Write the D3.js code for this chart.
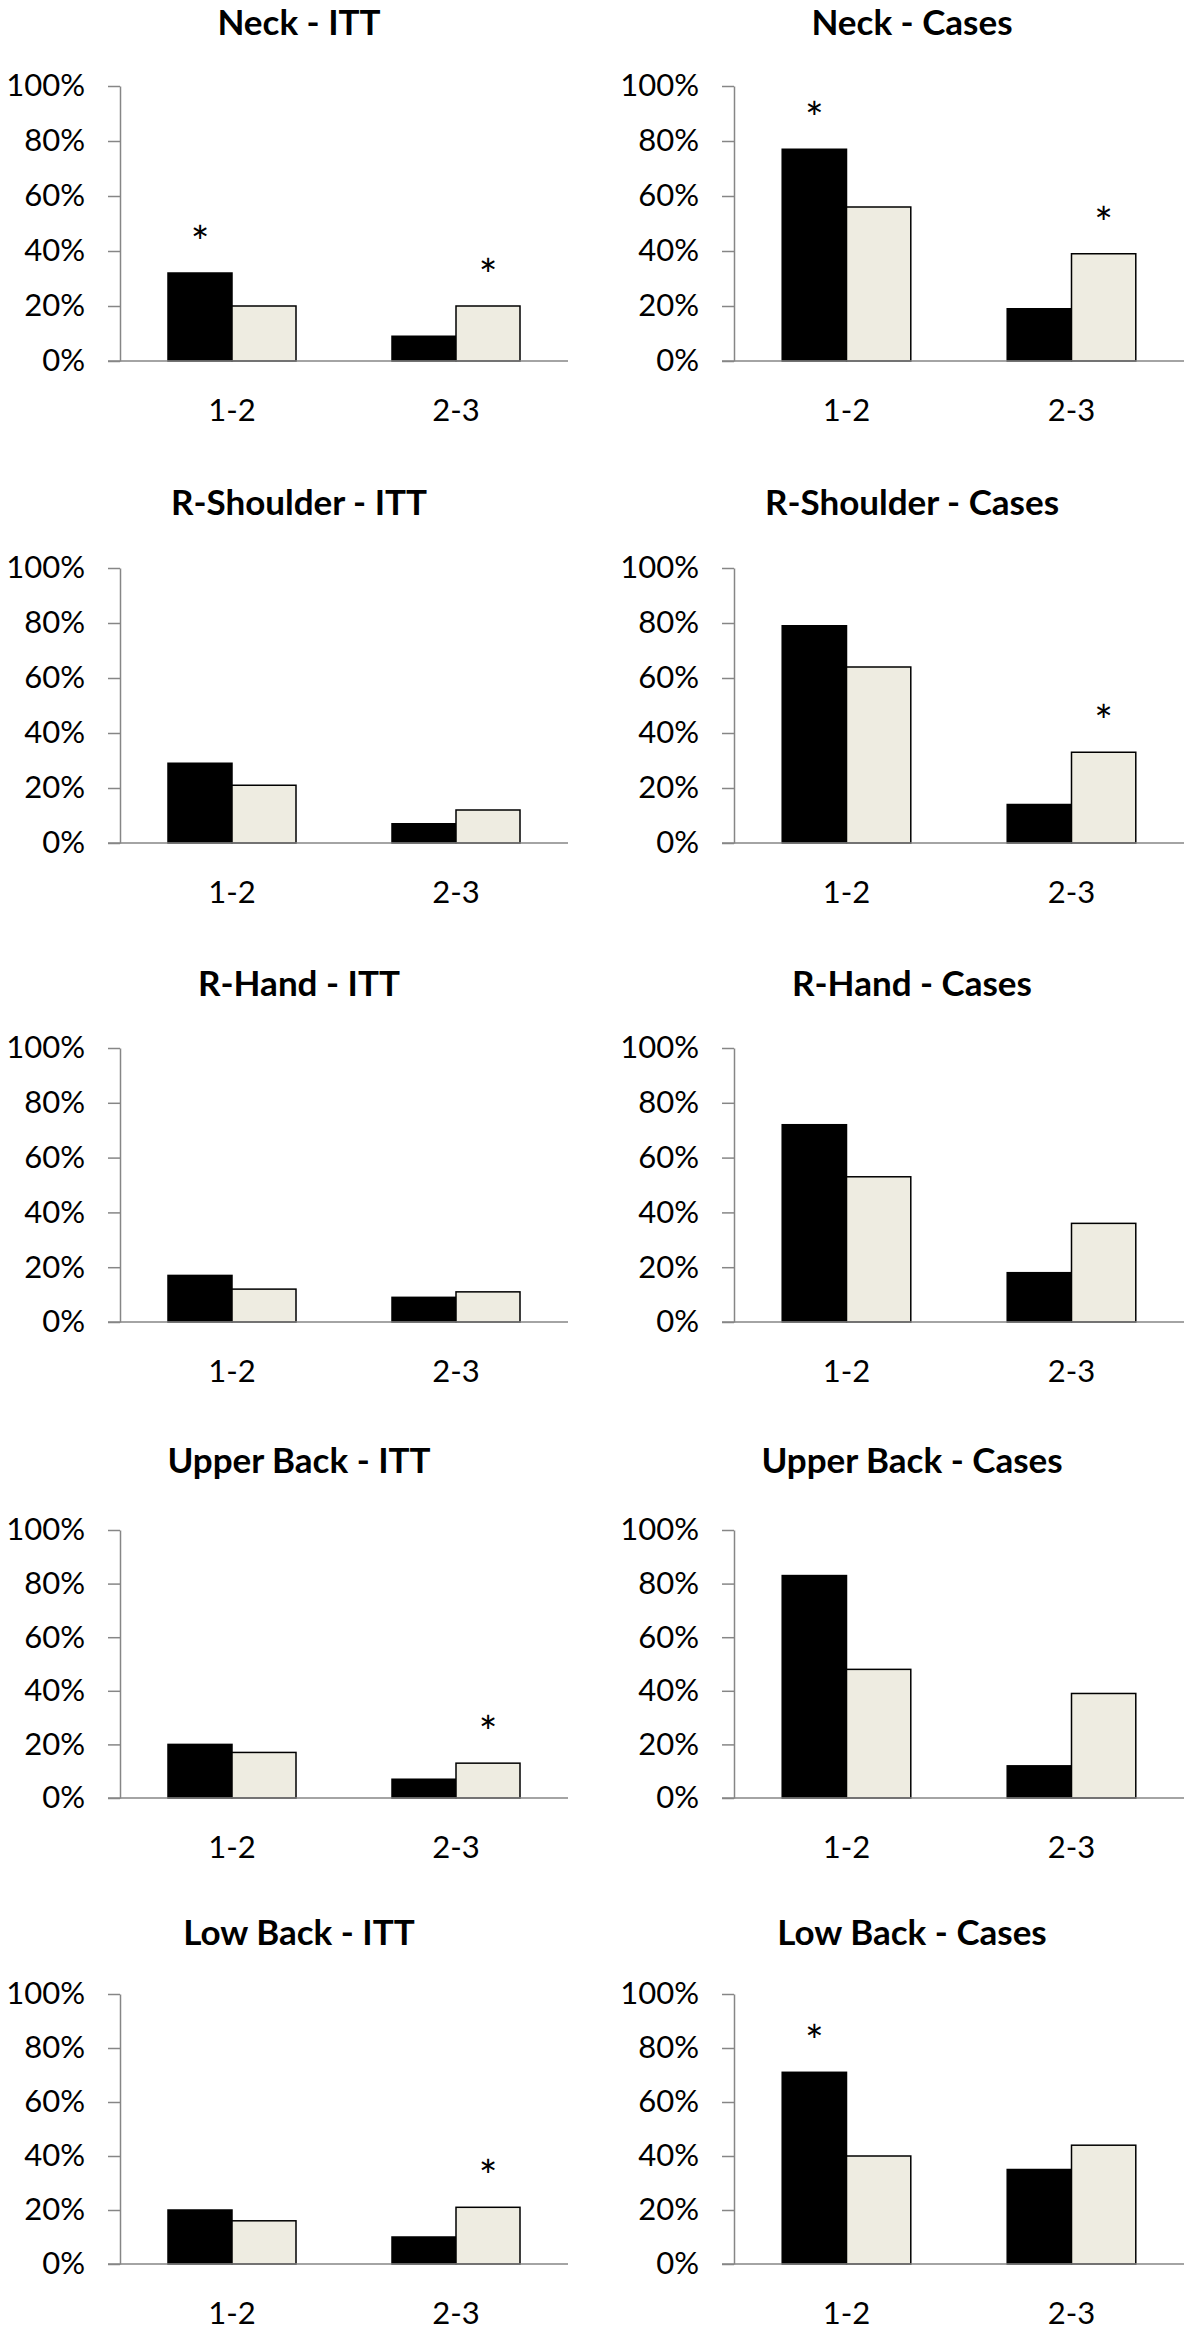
<!DOCTYPE html>
<html>
<head>
<meta charset="utf-8">
<script src="https://cdn.jsdelivr.net/npm/d3@7"></script>
<style>
  html, body { margin: 0; padding: 0; background: #fff; }
  svg { display: block; }
  text { font-family: Lato, "Open Sans", sans-serif; fill: #000; }
</style>
</head>
<body>
<svg id="chart" width="1200" height="2343"></svg>
<script>
// ---------------- DATA ----------------
const regions = ["Neck", "R-Shoulder", "R-Hand", "Upper Back", "Low Back"];
const analyses = ["ITT", "Cases"];
const categories = ["1-2", "2-3"];
const seriesKeys = ["dark", "light"];
const yTicks = [0, 20, 40, 60, 80, 100];

// values in %, one [1-2, 2-3] pair per region
const ittDark    = [[32, 9],  [29, 7],  [17, 9],  [20, 7],  [20, 10]];
const ittLight   = [[20, 20], [21, 12], [12, 11], [17, 13], [16, 21]];
const casesDark  = [[77, 19], [79, 14], [72, 18], [83, 12], [71, 35]];
const casesLight = [[56, 39], [64, 33], [53, 36], [48, 39], [40, 44]];

// significance markers: [region, analysis, category, series]
const significance = [
  ["Neck", "ITT", "1-2", "dark"],
  ["Neck", "ITT", "2-3", "light"],
  ["Neck", "Cases", "1-2", "dark"],
  ["Neck", "Cases", "2-3", "light"],
  ["R-Shoulder", "Cases", "2-3", "light"],
  ["Upper Back", "ITT", "2-3", "light"],
  ["Low Back", "ITT", "2-3", "light"],
  ["Low Back", "Cases", "1-2", "dark"]
];

// ---------------- LAYOUT ----------------
const rowLayout = [
  { titleY: 22,   top: 86,   bottom: 361 },
  { titleY: 502,  top: 568,  bottom: 843 },
  { titleY: 983,  top: 1048, bottom: 1322 },
  { titleY: 1460, top: 1530, bottom: 1798 },
  { titleY: 1932, top: 1994, bottom: 2264 }
];
const colLayout = [
  { x0: 120, x1: 568,  titleX: 299 },
  { x0: 734, x1: 1184, titleX: 912 }
];
const COLORS = { dark: "#000000", light: "#EEECE1" };
const AXIS_COLOR = "#868686";
const TICK_FONT = 31;
const TITLE_FONT = 35;
const STAR_FONT = 44;

const valuesFor = {
  ITT:   { dark: ittDark,   light: ittLight },
  Cases: { dark: casesDark, light: casesLight }
};

const svg = d3.select("#chart");
svg.append("rect").attr("width", 1200).attr("height", 2343).attr("fill", "#fff");

regions.forEach((region, ri) => {
  const row = rowLayout[ri];
  analyses.forEach((an, ci) => {
    const col = colLayout[ci];
    const g = svg.append("g");

    const y = d3.scaleLinear().domain([0, 100]).range([row.bottom, row.top]);
    const x = d3.scaleBand().domain(categories).range([col.x0, col.x1])
      .paddingInner(3 / 7).paddingOuter(1.5 / 7);
    const xs = d3.scaleBand().domain(seriesKeys).range([0, x.bandwidth()]).padding(0);

    // title
    g.append("text")
      .attr("x", col.titleX).attr("y", row.titleY + 13)
      .attr("text-anchor", "middle")
      .attr("font-weight", 700).attr("font-size", TITLE_FONT)
      .text(region + " - " + an);

    // y axis
    const ya = g.append("g").attr("transform", `translate(${col.x0},0)`)
      .call(d3.axisLeft(y).tickValues(yTicks).tickFormat(d => d + "%")
        .tickSize(12).tickSizeOuter(0).tickPadding(23));
    ya.select(".domain").attr("stroke", AXIS_COLOR).attr("stroke-width", 1.5);
    ya.selectAll(".tick line").attr("stroke", AXIS_COLOR).attr("stroke-width", 1.5);
    ya.selectAll(".tick text").attr("font-size", TICK_FONT)
      .attr("font-family", "Lato, 'Open Sans', sans-serif").attr("fill", "#000");

    // bars
    const rows = categories.map((c, k) => ({
      cat: c,
      vals: seriesKeys.map(s => ({ key: s, value: valuesFor[an][s][ri][k] }))
    }));
    const cg = g.selectAll("g.cat").data(rows).enter().append("g")
      .attr("class", "cat").attr("transform", d => `translate(${x(d.cat)},0)`);
    cg.selectAll("rect").data(d => d.vals).enter().append("rect")
      .attr("x", d => xs(d.key))
      .attr("y", d => y(d.value))
      .attr("width", xs.bandwidth())
      .attr("height", d => y(0) - y(d.value))
      .attr("fill", d => COLORS[d.key])
      .attr("stroke", "#000").attr("stroke-width", 1.5);

    // x axis
    const xa = g.append("g").attr("transform", `translate(0,${row.bottom})`)
      .call(d3.axisBottom(x).tickSize(0).tickPadding(38));
    xa.select(".domain").remove();
    xa.append("line").attr("x1", col.x0 - 12).attr("x2", col.x1)
      .attr("y1", 0).attr("y2", 0)
      .attr("stroke", AXIS_COLOR).attr("stroke-width", 1.5);
    xa.selectAll(".tick text").attr("font-size", TICK_FONT)
      .attr("font-family", "Lato, 'Open Sans', sans-serif").attr("fill", "#000");

    // significance asterisks
    significance.filter(s => s[0] === region && s[1] === an).forEach(s => {
      const k = categories.indexOf(s[2]);
      const v = valuesFor[an][s[3]][ri][k];
      g.append("text")
        .attr("x", x(s[2]) + xs(s[3]) + xs.bandwidth() / 2)
        .attr("y", y(v) - 15)
        .attr("text-anchor", "middle")
        .attr("font-size", STAR_FONT)
        .text("*");
    });
  });
});
</script>
</body>
</html>
